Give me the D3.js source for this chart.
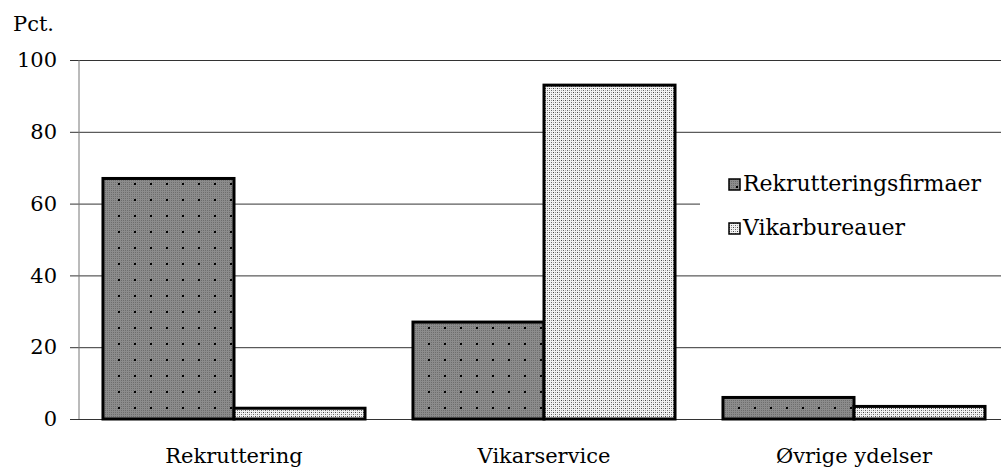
<!DOCTYPE html>
<html>
<head>
<meta charset="utf-8">
<script src="https://cdn.jsdelivr.net/npm/d3@7"></script>
<style>
  body { margin: 0; background: #fff; }
  svg { display: block; }
</style>
</head>
<body>
<main></main>
<script>
// data
const categories = ['Rekruttering', 'Vikarservice', 'Øvrige ydelser'];
const seriesNames = ['Rekrutteringsfirmaer', 'Vikarbureauer'];
const rekrutteringsfirmaer = [67, 27, 6];
const vikarbureauer = [3, 93, 3.5];
const yTicks = [0, 20, 40, 60, 80, 100];

// dimensions
const width = 1001;
const height = 471;
const plotLeft = 79;
const plotRight = 1009;
const plotTop = 60;
const plotBottom = 419;
const fontSize = 21;
const serif = "'DejaVu Serif', serif";

const svg = d3.select('main')
  .append('svg')
  .attr('width', width)
  .attr('height', height);

// fill patterns
const defs = svg.append('defs');

// dark: gray checker with a dot grid
const darkPat = defs.append('pattern')
  .attr('id', 'dark')
  .attr('patternUnits', 'userSpaceOnUse')
  .attr('width', 16)
  .attr('height', 16);
darkPat.append('rect').attr('width', 16).attr('height', 16).attr('fill', '#8c8c8c');
for (let i = 0; i < 16; i += 2) {
  for (let j = 0; j < 16; j += 2) {
    darkPat.append('rect').attr('x', i).attr('y', j).attr('width', 1).attr('height', 1).attr('fill', '#6e6e6e');
  }
}
darkPat.append('rect').attr('x', 7).attr('y', 7).attr('width', 2).attr('height', 2).attr('fill', '#000');

// light: fine dotted texture
const lightPat = defs.append('pattern')
  .attr('id', 'light')
  .attr('patternUnits', 'userSpaceOnUse')
  .attr('width', 4)
  .attr('height', 4);
lightPat.append('rect').attr('width', 4).attr('height', 4).attr('fill', '#f2f2f2');
lightPat.append('rect').attr('x', 0).attr('y', 0).attr('width', 1).attr('height', 1).attr('fill', '#444');
lightPat.append('rect').attr('x', 2).attr('y', 2).attr('width', 1).attr('height', 1).attr('fill', '#666');
lightPat.append('rect').attr('x', 2).attr('y', 0).attr('width', 1).attr('height', 1).attr('fill', '#999');
lightPat.append('rect').attr('x', 0).attr('y', 2).attr('width', 1).attr('height', 1).attr('fill', '#aaa');

const fills = ['url(#dark)', 'url(#light)'];

// scales
const xScale = d3.scaleBand()
  .domain(categories)
  .range([plotLeft, plotRight])
  .paddingInner(0)
  .paddingOuter(0);

const xSub = d3.scaleBand()
  .domain(seriesNames)
  .range([0, xScale.bandwidth()])
  .paddingOuter(0.183);

const yScale = d3.scaleLinear()
  .domain([0, 100])
  .range([plotBottom, plotTop]);

// y axis with gridlines
const yAxis = d3.axisLeft(yScale)
  .tickValues(yTicks)
  .tickSize(-(width - plotLeft))
  .tickPadding(22)
  .tickSizeOuter(0);

const yG = svg.append('g')
  .attr('transform', `translate(${plotLeft}, 0)`)
  .call(yAxis)
  .attr('font-family', serif)
  .attr('font-size', fontSize);
yG.select('.domain').remove();
yG.selectAll('.tick line')
  .attr('x1', -9)
  .attr('stroke', '#333')
  .attr('stroke-width', 1);
yG.selectAll('.tick text')
  .attr('fill', '#000');

// vertical axis line
svg.append('line')
  .attr('x1', plotLeft).attr('x2', plotLeft)
  .attr('y1', plotTop).attr('y2', plotBottom)
  .attr('stroke', '#777')
  .attr('stroke-width', 1);

svg.append('text')
  .text('Pct.')
  .attr('x', 13)
  .attr('y', 31)
  .attr('font-family', serif)
  .attr('font-size', fontSize);

// bars
const rows = categories.map((c, i) => ({
  category: c,
  values: [rekrutteringsfirmaer[i], vikarbureauer[i]]
}));

const groups = svg.selectAll('g.group')
  .data(rows)
  .enter()
  .append('g')
  .attr('class', 'group')
  .attr('transform', (d) => `translate(${xScale(d.category)}, 0)`);

groups.selectAll('rect')
  .data((d) => d.values.map((v, j) => ({ series: seriesNames[j], value: v, j })))
  .enter()
  .append('rect')
  .attr('x', (d) => xSub(d.series))
  .attr('y', (d) => yScale(d.value))
  .attr('width', xSub.bandwidth())
  .attr('height', (d) => yScale(0) - yScale(d.value))
  .attr('fill', (d) => fills[d.j])
  .attr('stroke', '#000')
  .attr('stroke-width', 3);

// category labels
svg.selectAll('text.cat')
  .data(categories)
  .enter()
  .append('text')
  .attr('class', 'cat')
  .text((d) => d)
  .attr('x', (d) => xScale(d) + xScale.bandwidth() / 2)
  .attr('y', 463)
  .attr('text-anchor', 'middle')
  .attr('font-family', serif)
  .attr('font-size', fontSize);

// legend
const legend = svg.append('g')
  .attr('transform', 'translate(700, 155)');
legend.append('rect')
  .attr('width', 301)
  .attr('height', 96)
  .attr('fill', '#fff');

const items = legend.selectAll('g.item')
  .data(seriesNames)
  .enter()
  .append('g')
  .attr('class', 'item')
  .attr('transform', (d, i) => `translate(29, ${24 + i * 44})`);

items.append('rect')
  .attr('width', 11)
  .attr('height', 11)
  .attr('fill', (d, i) => fills[i])
  .attr('stroke', '#000')
  .attr('stroke-width', 1.5);

items.append('text')
  .text((d) => d)
  .attr('x', 14)
  .attr('y', 12)
  .attr('font-family', serif)
  .attr('font-size', 22);
</script>
</body>
</html>
